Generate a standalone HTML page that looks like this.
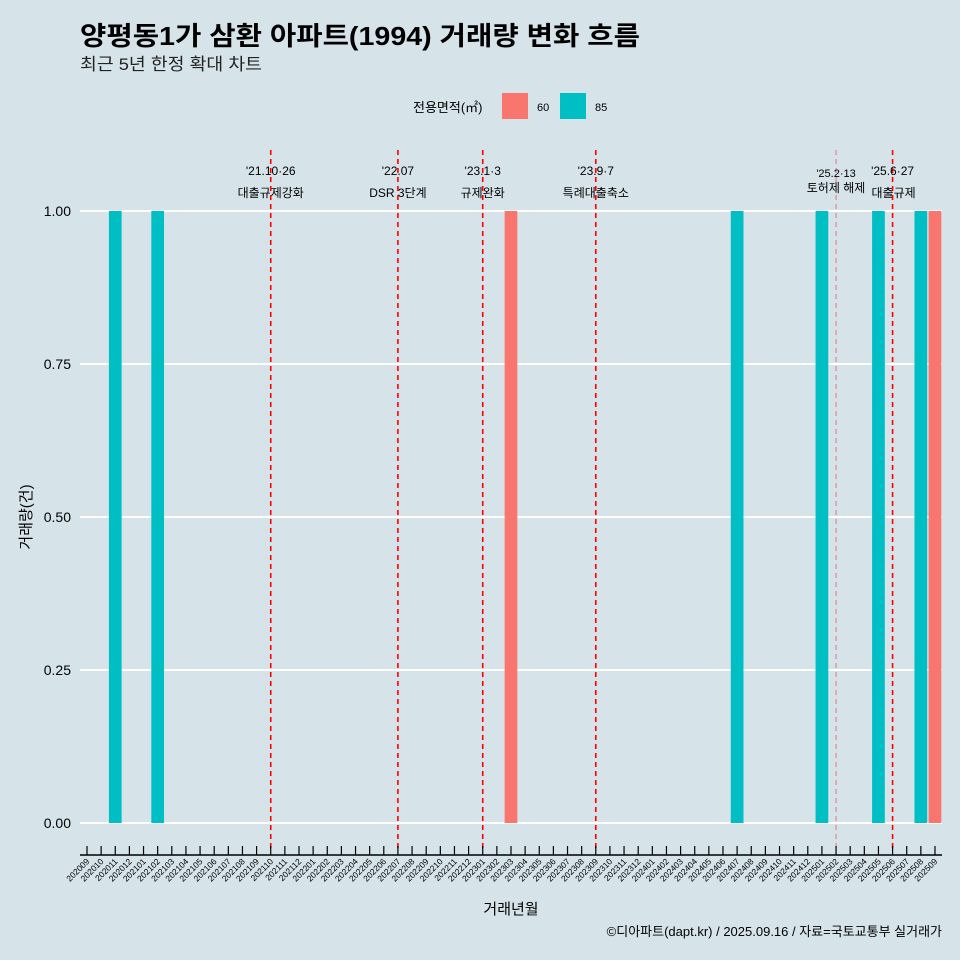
<!DOCTYPE html>
<html><head><meta charset="utf-8"><style>
html,body{margin:0;padding:0;overflow:hidden;width:960px;height:960px;background:#d6e4ea;font-family:"Liberation Sans","Noto Sans CJK KR",sans-serif}
svg{display:block}
svg text{font-family:"Liberation Sans","Noto Sans CJK KR",sans-serif}
</style></head><body>
<svg id="c" width="960" height="960" xmlns="http://www.w3.org/2000/svg">
<rect width="960" height="960" fill="#d6e4ea"/>
<text x="80" y="45" font-size="26" font-weight="bold" fill="#000" textLength="560" lengthAdjust="spacingAndGlyphs">양평동1가 삼환 아파트(1994) 거래량 변화 흐름</text>
<text x="80" y="70" font-size="17" fill="#222" textLength="182" lengthAdjust="spacingAndGlyphs">최근 5년 한정 확대 차트</text>
<g>
<text x="413" y="112" font-size="13">전용면적(㎡)</text>
<rect x="502" y="93" width="26" height="26" fill="#f8766d"/>
<text x="537" y="111" font-size="11">60</text>
<rect x="560" y="93" width="26" height="26" fill="#00bfc4"/>
<text x="595" y="111" font-size="11">85</text>
</g>
<g id="grid"></g><g id="bars"></g><g id="vl"></g><g id="ax"></g>
<text x="31" y="517" font-size="15" transform="rotate(-90 31 517)" text-anchor="middle">거래량(건)</text>
<text x="511" y="914" font-size="15" text-anchor="middle">거래년월</text>
<text x="942" y="936" font-size="13" text-anchor="end">©디아파트(dapt.kr) / 2025.09.16 / 자료=국토교통부 실거래가</text>
</svg>
<script>
const categories=[];for(let y=2020,m=9;!(y===2025&&m===10);){categories.push(''+y+(m<10?'0':'')+m);m++;if(m>12){m=1;y++;}}
const series60Months=['202303','202509'];
const series60Values=[1,1];
const series85Months=['202011','202102','202407','202501','202505','202508'];
const series85Values=[1,1,1,1,1,1];
const yTicks=[0,0.25,0.5,0.75,1];
const yTickLabels=['0.00','0.25','0.50','0.75','1.00'];
const eventMonths=['202110','202207','202301','202309','202502','202506'];
const eventDates=["'21.10·26","'22.07","'23.1·3","'23.9·7","'25.2·13","'25.6·27"];
const eventNames=['대출규제강화','DSR 3단계','규제완화','특례대출축소','토허제 해제','대출규제'];
const NS='http://www.w3.org/2000/svg';
const x0=87,step=14.133,y0=823,y1=211;
const X=c=>x0+categories.indexOf(c)*step;
const Y=v=>y0-(y0-y1)*v;
function mk(t,a,p){const e=document.createElementNS(NS,t);for(const k in a)e.setAttribute(k,a[k]);p.appendChild(e);return e;}
const grid=document.getElementById('grid'),bars=document.getElementById('bars'),vl=document.getElementById('vl'),ax=document.getElementById('ax');
yTicks.forEach((v,i)=>{
 const l=mk('line',{x1:80,x2:942,y1:Y(v),y2:Y(v),stroke:'#fff','stroke-width':2},grid);
 
 
 const t=mk('text',{x:71,y:Y(v)+5,'font-size':14,'text-anchor':'end'},grid);t.textContent=yTickLabels[i];
 
 
});
const bw=step*0.9;
function drawBars(ms,vs,col,nm){ms.forEach((m,i)=>{
 const r=mk('rect',{x:X(m)-bw/2,y:Y(vs[i]),width:bw,height:Y(0)-Y(vs[i]),fill:col},bars);
 
 
});}
drawBars(series60Months,series60Values,'#f8766d','bar-60');
drawBars(series85Months,series85Values,'#00bfc4','bar-85');
eventMonths.forEach((m,i)=>{
 const light=m==='202502';
 const l=mk('line',{x1:X(m),x2:X(m),y1:150,y2:848,stroke:light?'#e8556a':'#ff0000','stroke-width':light?1:1.6,'stroke-dasharray':'5,4',opacity:light?0.8:1},vl);
 
 
 const small=light;
 const t1=mk('text',{x:X(m),y:small?177:175,'font-size':small?11:12,'text-anchor':'middle'},vl);t1.textContent=eventDates[i];
 
 
 const t2=mk('text',{x:X(m)+(m==='202506'?1:0),y:small?192:197,'font-size':12,'text-anchor':'middle'},vl);t2.textContent=eventNames[i];
 
 
});
const al=mk('line',{x1:80,x2:942,y1:855,y2:855,stroke:'#000','stroke-width':1.5},ax);


categories.forEach(c=>{
 const tk=mk('line',{x1:X(c),x2:X(c),y1:846,y2:855,stroke:'#000','stroke-width':1.2},ax);
 
 
 const t=mk('text',{x:X(c)+3,y:862,'font-size':8.5,'text-anchor':'end',transform:`rotate(-45 ${X(c)+3} 862)`},ax);t.textContent=c;
 
 
});
</script>
</body></html>
